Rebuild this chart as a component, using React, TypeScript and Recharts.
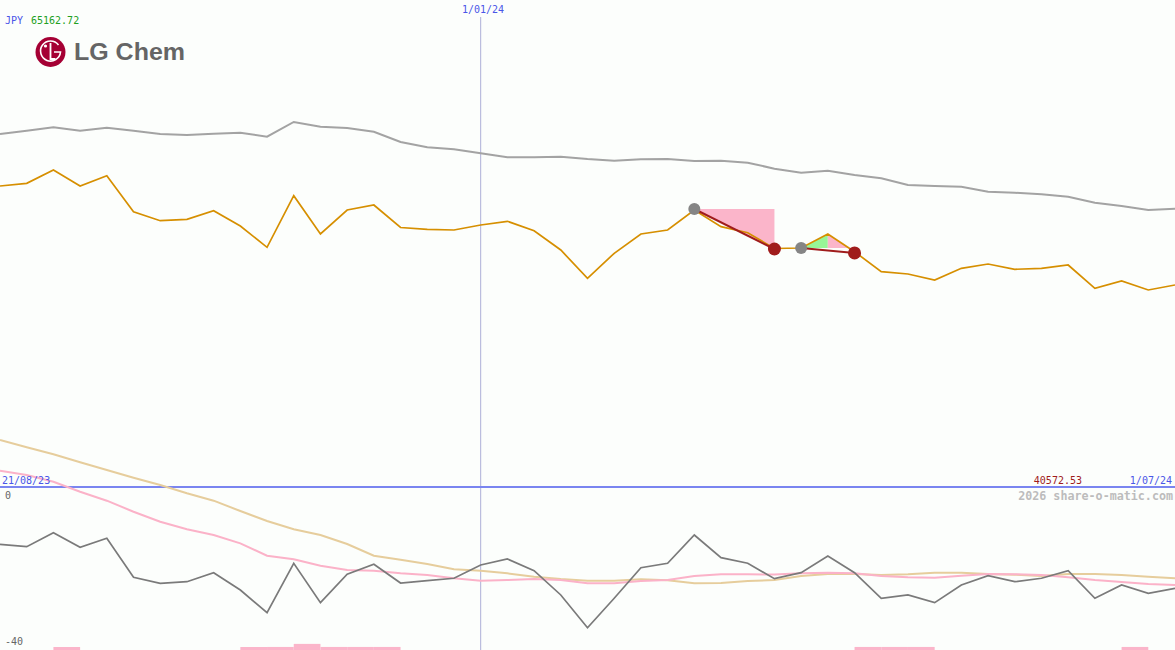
import { ComposedChart, Line, Area, XAxis, YAxis, ReferenceLine, ReferenceDot, ReferenceArea } from 'recharts';

const WIDTH = 1175;
const HEIGHT = 650;
const DIVIDER_Y = 487;

// weekly closes, JPY
const price = [
  55771, 55907, 56579, 55771, 56291, 54473, 54019, 54090, 54524, 53751,
  52676, 55281, 53347, 54559, 54812, 53676, 53585, 53549, 53802, 53989,
  53514, 52539, 51110, 52373, 53347, 53549, 54559, 53716, 53413, 52615,
  52640, 53347, 52454, 51444, 51328, 51025, 51615, 51833, 51565, 51615,
  51782, 50606, 50974, 50520, 50772,
];

const priceAvg = [
  58397, 58563, 58735, 58563, 58715, 58563, 58397, 58346, 58412, 58462,
  58260, 59003, 58765, 58700, 58513, 57993, 57725, 57624, 57422, 57220,
  57220, 57250, 57134, 57048, 57119, 57134, 57033, 57048, 56948, 56645,
  56443, 56543, 56326, 56160, 55822, 55771, 55736, 55483, 55433, 55352,
  55231, 54928, 54761, 54559, 54625,
];

const osc = [
  -14.06, -14.65, -11.21, -14.8, -12.59, -22.16, -23.63, -23.24, -21.03, -25.28,
  -30.85, -18.72, -28.39, -21.42, -18.97, -23.56, -22.99, -22.4, -19.14, -17.67,
  -20.54, -26.5, -34.53, -27.31, -19.8, -18.72, -11.78, -17.35, -18.72, -22.5,
  -21.03, -16.93, -21.03, -27.31, -26.5, -28.39, -24.05, -21.77, -23.24, -22.4,
  -20.54, -27.31, -24.05, -26.09, -24.86,
];

const oscSlow = [
  11.53, 9.74, 8.02, 6.06, 4.17, 2.28, 0.49, -1.55, -3.36, -5.89,
  -8.34, -10.38, -11.78, -13.99, -16.86, -17.84, -18.9, -20.2, -20.54, -21.18,
  -22.01, -22.58, -22.99, -22.99, -22.65, -22.9, -23.63, -23.56, -23.07, -22.82,
  -21.84, -21.35, -21.35, -21.6, -21.42, -21.03, -21.03, -21.35, -21.52, -21.84,
  -21.35, -21.35, -21.6, -22.01, -22.4,
];

const oscFast = [
  4.0, 2.94, 1.3, -1.15, -3.36, -6.06, -8.52, -10.38, -11.78, -13.82,
  -16.86, -17.74, -19.31, -20.37, -20.54, -21.15, -21.6, -22.4, -22.99, -22.82,
  -22.58, -22.82, -23.63, -23.63, -23.07, -22.82, -21.84, -21.42, -21.42, -21.5,
  -21.18, -21.03, -21.18, -21.84, -22.16, -22.26, -21.77, -21.35, -21.42, -21.6,
  -22.16, -22.82, -23.31, -23.8, -24.05,
];

const signalBars = [
  0, 0, 0.75, 0, 0, 0, 0, 0, 0, 0.75,
  0.75, 1.5, 0.75, 0.75, 0.75, 0, 0, 0, 0, 0,
  0, 0, 0, 0, 0, 0, 0, 0, 0, 0,
  0, 0, 0.75, 0.75, 0.75, 0, 0, 0, 0, 0,
  0, 0, 0.75, 0, 0,
];

const tradeEntryIdx = [26, 30];
const tradeExitIdx = [29, 32];
const tradeEntryPrice = [54610, 52640];
const tradeExitPrice = [52590, 52390];

const PRICE_HIGH = 65162.72;
const PRICE_LOW = 40572.53;
const OSC_LOW = -40;
const MARKER_WEEK = 18;

const priceBottom = PRICE_HIGH - ((PRICE_HIGH - PRICE_LOW) * HEIGHT) / DIVIDER_Y;
const oscTop = (-OSC_LOW * DIVIDER_Y) / (HEIGHT - DIVIDER_Y);
const pxToPrice = (px: number) => PRICE_HIGH - ((PRICE_HIGH - PRICE_LOW) * px) / DIVIDER_Y;

const rows = price.map((p, i) => ({
  i,
  price: p,
  priceAvg: priceAvg[i],
  osc: osc[i],
  oscSlow: oscSlow[i],
  oscFast: oscFast[i],
}));

// trade 1: loss triangle under the entry level
const loss1 = [
  { i: tradeEntryIdx[0], r: [tradeEntryPrice[0], tradeEntryPrice[0]] },
  { i: tradeExitIdx[0], r: [tradeExitPrice[0], tradeEntryPrice[0]] },
];
// trade 2: rise then fall back to the entry level
const peak = tradeEntryIdx[1] + 1;
const cross = peak + (price[peak] - tradeEntryPrice[1]) / (price[peak] - price[peak + 1]);
const gain2 = [
  { i: tradeEntryIdx[1], r: [tradeEntryPrice[1], tradeEntryPrice[1]] },
  { i: peak, r: [tradeEntryPrice[1], price[peak]] },
];
const loss2 = [
  { i: peak, r: [tradeEntryPrice[1], price[peak]] },
  { i: cross, r: [tradeEntryPrice[1], tradeEntryPrice[1]] },
];

const mono = '"DejaVu Sans Mono", monospace';

const Overlay = () => (
  <svg width={WIDTH} height={HEIGHT} style={{ position: 'absolute', left: 0, top: 0, pointerEvents: 'none' }}>
    <g fontFamily={mono} fontSize={10}>
      <text x={5} y={24} fill="#4a56e8">JPY</text>
      <text x={31} y={24} fill="#22a022">65162.72</text>
      <text x={483} y={13} fill="#4a56e8" textAnchor="middle">1/01/24</text>
      <text x={2} y={484} fill="#4a56e8">21/08/23</text>
      <text x={1082} y={484} fill="#a01c1c" textAnchor="end">40572.53</text>
      <text x={1172} y={484} fill="#4a56e8" textAnchor="end">1/07/24</text>
      <text x={5} y={499} fill="#666">0</text>
      <text x={5} y={645} fill="#666">-40</text>
      <text x={1173} y={500} fill="#bcbcbc" fontSize={11.7} fontWeight="bold" textAnchor="end">2026 share-o-matic.com</text>
    </g>
    <g>
      <circle cx={50.5} cy={52} r={15} fill="#a50034" />
      <path d="M 58.5 45 A 10 10 0 1 0 60.5 52 L 54 52" fill="none" stroke="#fff" strokeWidth={1.6} />
      <circle cx={45.5} cy={46} r={1.6} fill="#fff" />
      <path d="M 50.5 43 L 50.5 59 L 55.5 59" fill="none" stroke="#fff" strokeWidth={1.8} />
      <text x={74} y={60} fill="#656565" fontFamily='"Liberation Sans", Arial, sans-serif' fontWeight="bold" fontSize={23} textLength={111} lengthAdjust="spacingAndGlyphs">LG Chem</text>
    </g>
  </svg>
);

export default function App() {
  return (
    <div style={{ position: 'absolute', left: 0, top: 0, width: WIDTH, height: HEIGHT, background: '#fcfefc', overflow: 'hidden' }}>
      <ComposedChart width={WIDTH} height={HEIGHT} data={rows} margin={{ top: 0, right: 0, bottom: 0, left: 0 }}>
        <XAxis dataKey="i" type="number" domain={[0, price.length - 1]} hide allowDataOverflow />
        <YAxis yAxisId="price" domain={[priceBottom, PRICE_HIGH]} hide allowDataOverflow />
        <YAxis yAxisId="osc" domain={[OSC_LOW, oscTop]} hide allowDataOverflow />

        <ReferenceLine
          yAxisId="price"
          segment={[{ x: MARKER_WEEK, y: pxToPrice(17) }, { x: MARKER_WEEK, y: priceBottom }]}
          stroke="#adb0d8"
          strokeWidth={1}
        />
        <ReferenceLine yAxisId="price" y={PRICE_LOW} stroke="#7a85f0" strokeWidth={2} />

        {signalBars.map((v, i) =>
          v > 0 ? (
            <ReferenceArea key={`bar-${i}`} yAxisId="osc" x1={i} x2={i + 1} y1={OSC_LOW} y2={OSC_LOW + v} fill="#fbb5ca" fillOpacity={1} stroke="none" />
          ) : null
        )}

        <Area yAxisId="price" data={loss1} dataKey="r" type="linear" fill="#fbb5ca" fillOpacity={1} stroke="none" dot={false} activeDot={false} isAnimationActive={false} />
        <Area yAxisId="price" data={gain2} dataKey="r" type="linear" fill="#97f597" fillOpacity={1} stroke="none" dot={false} activeDot={false} isAnimationActive={false} />
        <Area yAxisId="price" data={loss2} dataKey="r" type="linear" fill="#fbb5ca" fillOpacity={1} stroke="none" dot={false} activeDot={false} isAnimationActive={false} />

        <Line yAxisId="price" dataKey="priceAvg" type="linear" stroke="#a3a3a3" strokeWidth={2} dot={false} activeDot={false} isAnimationActive={false} />
        <Line yAxisId="price" dataKey="price" type="linear" stroke="#d68f00" strokeWidth={1.7} dot={false} activeDot={false} isAnimationActive={false} />

        <Line yAxisId="osc" dataKey="oscSlow" type="linear" stroke="#e6cd9c" strokeWidth={2} dot={false} activeDot={false} isAnimationActive={false} />
        <Line yAxisId="osc" dataKey="oscFast" type="linear" stroke="#fbb2c8" strokeWidth={2} dot={false} activeDot={false} isAnimationActive={false} />
        <Line yAxisId="osc" dataKey="osc" type="linear" stroke="#7a7a7a" strokeWidth={1.7} dot={false} activeDot={false} isAnimationActive={false} />

        {tradeEntryIdx.map((e, k) => (
          <Line
            key={`trade-${k}`}
            yAxisId="price"
            data={[
              { i: e, t: tradeEntryPrice[k] },
              { i: tradeExitIdx[k], t: tradeExitPrice[k] },
            ]}
            dataKey="t"
            type="linear"
            stroke="#a01c1c"
            strokeWidth={2}
            dot={false}
            activeDot={false}
            isAnimationActive={false}
          />
        ))}
        {tradeEntryIdx.map((e, k) => (
          <ReferenceDot key={`in-${k}`} yAxisId="price" x={e} y={tradeEntryPrice[k]} r={6} fill="#858585" stroke="none" />
        ))}
        {tradeExitIdx.map((e, k) => (
          <ReferenceDot key={`out-${k}`} yAxisId="price" x={e} y={tradeExitPrice[k]} r={6.5} fill="#a01c1c" stroke="none" />
        ))}
      </ComposedChart>
      <Overlay />
    </div>
  );
}
